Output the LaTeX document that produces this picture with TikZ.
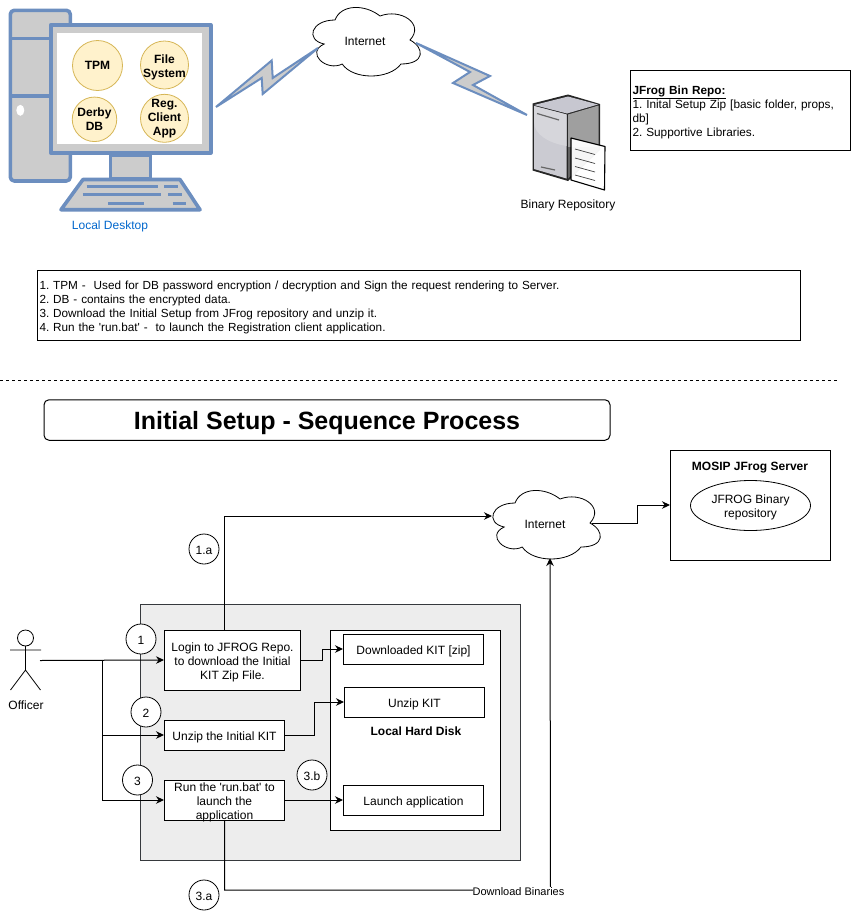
\documentclass[tikz,border=0pt]{standalone}
\usepackage{fontspec}
\setmainfont{Liberation Sans}
\usepackage{tikz}
\usetikzlibrary{arrows.meta,shapes.geometric}
\AtBeginDocument{\frenchspacing}
\definecolor{pcblue}{HTML}{6C8EBF}
\definecolor{pcgray}{HTML}{CCCCCC}
\definecolor{appfill}{HTML}{FFF2CC}
\definecolor{appline}{HTML}{D6B656}
\definecolor{zoneline}{HTML}{36393D}
\definecolor{desktopblue}{HTML}{0066CC}
\newcommand{\sq}{\textquotesingle}
\newcommand{\linestrut}{\rule[-3pt]{0pt}{17pt}}
\newcommand{\notestrut}{\rule[-3pt]{0pt}{16pt}}
\newcommand{\lastlinestrut}{\rule[-3pt]{0pt}{3pt}}
\tikzset{
  base font/.style={font=\fontsize{12}{14}\selectfont,execute at begin node=\linestrut,execute at end node=\lastlinestrut},
  note font/.style={font=\fontsize{12}{14}\selectfont,execute at begin node=\notestrut,execute at end node=\lastlinestrut},
  proc box/.style={draw,fill=white,line width=1pt,inner sep=1pt,align=center,base font},
  text box/.style={draw,fill=white,line width=1pt,inner xsep=2pt,inner ysep=0pt,align=left,note font},
  app node/.style={circle,draw=appline,fill=appfill,line width=.8pt,inner sep=-8pt,align=center,font=\fontsize{12}{14}\selectfont\bfseries},
  step node/.style={circle,draw,fill=white,line width=.8pt,minimum size=30,inner sep=0pt,note font},
  plain text/.style={inner sep=0pt,align=center,base font},
  conn/.style={line width=1pt,-{Stealth[length=8pt,width=7.5pt]}},
  pc part/.style={draw=pcblue,fill=pcgray,line width=3.6pt,line join=round},
  pc key/.style={draw=pcblue,line width=3pt},
  bolt/.style={draw=pcblue,fill=pcgray,line width=2pt,line join=miter},
  doc line/.style={draw=black!75,line width=.7pt},
  cloudblob/.pic={
    \draw[fill=white,line width=.8pt] (30,20) .. controls (6,20) and (0,40) .. (19.2,44)
      .. controls (0,52.8) and (21.6,72) .. (37.2,64)
      .. controls (48,80) and (84,80) .. (96,64)
      .. controls (120,64) and (120,48) .. (105,40)
      .. controls (120,24) and (96,8) .. (75,16)
      .. controls (60,4) and (36,4) .. (30,20) -- cycle;
    \node[plain text] (-label) at (60,40) {#1};
    \coordinate (-w) at (7,33);
    \coordinate (-e) at (107,40);
    \coordinate (-s) at (65,75);
  }
}

\begin{document}
\begin{tikzpicture}[x=1pt,y=-1pt]
  \useasboundingbox (0,0) rectangle (851,911);

  % desktop
  \draw[pc part,rounded corners=4pt] (10.3,10.3) rectangle (70.3,181);
  \draw[pc part] (10.3,38.3) -- (50,38.3) (10.3,95.7) -- (50,95.7);
  \fill[white] (20.3,110.3) ellipse (4 and 5.5);
  \draw[pc part] (110.3,155) rectangle (150.3,179);
  \draw[pc part] (50.7,24.7) rectangle (210.7,153);
  \fill[white] (56.7,33.3) rectangle (202.3,144.3);
  \draw[pc part] (83,179.5) -- (180,179.5) -- (200,209.7) -- (61,209.7) -- cycle;
  \draw[pc key] (86.7,186) -- (158,186) (164.3,186) -- (178.3,186);
  \draw[pc key] (82.7,194.7) -- (160.7,194.7) (168.3,194.7) -- (182.3,194.7);
  \draw[pc key] (108.3,203) -- (144.3,203) (172.7,203) -- (186,203);

  \node[app node,minimum size=50] (tpm) at (97.5,65.5) {TPM};
  \node[app node,minimum size=48] (filesys) at (164.5,65) {\rule{0pt}{13pt}File\\System};
  \node[app node,minimum size=44.5] (derby) at (94.5,119.3) {Derby\\DB};
  \node[app node,minimum size=48] (regapp) at (164.5,118.3) {Reg.\\Client\\App};
  \node[plain text,text=desktopblue] (desktop) at (110,224) {Local Desktop};

  % internet and links
  \pic (topcloud) at (305,0) {cloudblob=Internet};
  \draw[bolt] (216,107) -- (271.7,60.5) -- (272.7,78) -- (318,48) -- (262.7,94) -- (261.7,78) -- cycle;
  \draw[bolt] (416,43) -- (490,76) -- (473,85) -- (527,115) -- (453,83) -- (470,72) -- cycle;

  % binary repository
  \fill[black!85] (532.5,103.5) -- (568,94.5) -- (600,104) -- (600,150) -- (568,181) -- (532.5,170.5) -- cycle;
  \fill[black!12!blue!5!white!82!black] (534,105) -- (568,96.5) -- (598,104.5) -- (567,113.5) -- cycle;
  \fill[blue!8!gray!38] (534,106) -- (566.5,114.5) -- (566.5,178.5) -- (534,169) -- cycle;
  \fill[blue!6!gray!30!white] (534,106) -- (566.5,114.5) -- (566.5,146) .. controls (548,143) and (534,134) .. (534,122) -- cycle;
  \fill[gray!75] (568,114.5) -- (598.5,105.5) -- (598.5,147) -- (568,147) -- cycle;
  \fill[gray!70!black!95] (568,147) -- (598.5,147) -- (598.5,150) -- (568,178.5) -- cycle;
  \draw[line width=1.2pt,black!60] (537,113.5) -- (559,120);
  \draw[line width=1.2pt,black!60] (541,167) -- (555,170);
  \draw[fill=white,fill opacity=.95,line width=1.1pt,line join=round] (571,138) -- (605,146.5) -- (604.5,190) -- (571,180) -- cycle;
  \draw[doc line] (575,149) -- (595,154.5) (575,158) -- (595,163.5) (575,166.5) -- (595,172) (575,175) -- (595,180.5);
  \node[plain text] (binrepo) at (568,203) {Binary Repository};

  % notes
  \node[text box,font=\fontsize{11.8}{14.3}\selectfont,text width=216,minimum height=80] (binnote) at (740.5,110.5)
    {\underline{\textbf{JFrog Bin Repo:}}\\1. Inital Setup Zip [basic folder, props,\\db]\\2. Supportive Libraries.};
  \node[text box,font=\fontsize{11.75}{14.3}\selectfont,text width=759,minimum height=70.5] (legend) at (419,305.5)
    {1. TPM -\ \ Used for DB password encryption / decryption and Sign the request rendering to Server.\\
     2. DB - contains the encrypted data.\\
     3. Download the Initial Setup from JFrog repository and unzip it.\\
     4. Run the \sq run.bat\sq\ -\ \ to launch the Registration client application.};

  \coordinate (sepleft) at (0,380.5);
  \coordinate (sepright) at (838,380.5);
  \draw[line width=1pt,dash pattern=on 3pt off 3pt] (sepleft) -- (sepright);

  \node[draw,fill=white,line width=1pt,rounded corners=5pt,minimum width=566,minimum height=40.5,inner sep=0pt,
    font=\fontsize{25}{29}\selectfont\bfseries] (title) at (327,420) {\rule{0pt}{24pt}Initial Setup - Sequence Process};

  % sequence
  \node[draw=zoneline,fill=black!7,line width=1pt,minimum width=380,minimum height=256,inner sep=0pt] (zone) at (330.5,732) {};
  \node[proc box,minimum width=170,minimum height=200] (disk) at (415.5,730) {};

  \node[proc box,minimum width=136,minimum height=60] (login) at (232.5,660) {\rule{0pt}{14.5pt}Login to JFROG Repo.\\to download the Initial\\KIT Zip File.};
  \node[proc box,minimum width=120,minimum height=30] (unzip) at (224.5,735) {Unzip the Initial KIT};
  \node[proc box,inner ysep=-6pt,minimum width=120,minimum height=40] (runbat) at (224.5,800) {\rule{0pt}{14.5pt}Run the \sq run.bat\sq\ to\\launch the\\application};
  \node[proc box,minimum width=140,minimum height=30] (dlkit) at (413.5,649) {Downloaded KIT [zip]};
  \node[proc box,minimum width=140,minimum height=30] (unzipkit) at (414.5,702) {Unzip KIT};
  \node[proc box,minimum width=140,minimum height=30] (launch) at (413.5,800) {Launch application};
  \node[plain text,font=\fontsize{12}{14}\selectfont\bfseries] (diskname) at (416,730) {Local Hard Disk};

  % officer
  \draw[line width=.8pt] (25.5,638) circle (8);
  \draw[line width=.8pt] (25.5,646) -- (25.5,670) (10,650) -- (41,650) (10.5,690) -- (25.5,670) -- (40.5,690);
  \node[plain text] (officer) at (26,704) {Officer};
  \coordinate (hand) at (40,660.5);
  \coordinate (fork) at (102.5,660.5);
  \coordinate (logintop) at (224.5,630);

  \pic (lowcloud) at (485,483) {cloudblob=Internet};
  \node[draw,fill=white,line width=1pt,minimum width=160,minimum height=110,inner sep=0pt] (server) at (750.5,505) {};
  \node[plain text,font=\fontsize{12}{14}\selectfont\bfseries] (servername) at (750,465) {MOSIP JFrog Server};
  \node[draw,fill=white,ellipse,line width=.8pt,minimum width=120,minimum height=50,inner sep=0pt,align=center,base font] (jfrog) at (750.5,505.5) {\rule{0pt}{12pt}JFROG Binary\\repository};

  \draw[conn] (hand) -- (login.west);
  \draw[conn] (fork) |- (unzip.west);
  \draw[conn] (fork) |- (runbat.west);
  \draw[conn] (login.east) -- (322,660) |- (dlkit.west);
  \draw[conn] (unzip.east) -- (314.5,735) |- (unzipkit.west);
  \draw[conn] (runbat.east) -- (launch.west);
  \draw[conn] (logintop) |- (lowcloud-w);
  \draw[conn] (lowcloud-e) -- (637,523) |- (server.west);
  \draw[conn] (runbat.south) |- (550.5,890) -- (lowcloud-s)
    node[pos=0,inner sep=0pt,fill=white,font=\fontsize{11}{13}\selectfont,xshift=-32pt,yshift=-1.5pt] (dlbin) {Download Binaries};

  \node[step node] (stepone) at (141,639) {1};
  \node[step node] (steptwo) at (146,712) {2};
  \node[step node] (stepthree) at (137.5,780) {3};
  \node[step node] (stepthreeb) at (312,775) {3.b};
  \node[step node] (stepthreea) at (204,895) {3.a};
  \node[step node] (steponea) at (204,549) {1.a};
\end{tikzpicture}
\end{document}
